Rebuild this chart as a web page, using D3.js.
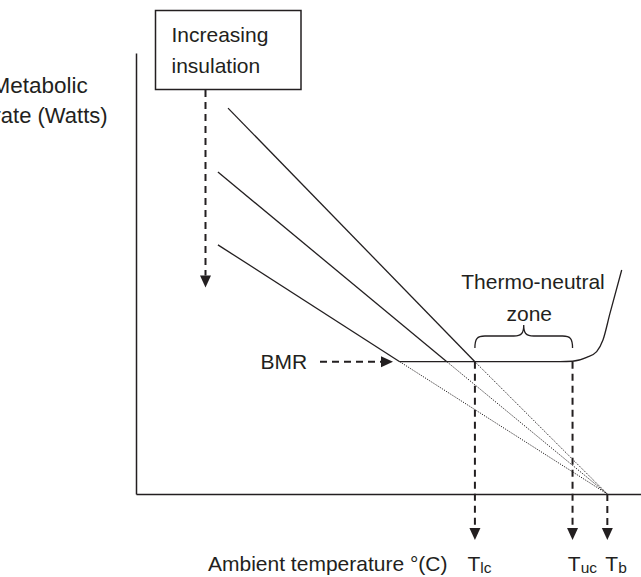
<!DOCTYPE html>
<html>
<head>
<meta charset="utf-8">
<script src="https://cdn.jsdelivr.net/npm/d3@7"></script>
<style>
  html, body { margin: 0; padding: 0; background: #fff; }
  svg { display: block; }
  text { font-family: "Liberation Sans", Arial, sans-serif; fill: #231f20; }
</style>
</head>
<body>
<svg id="chart" width="641" height="577"></svg>
<script>
// ---------------- DATA ----------------
// Temperatures (schematic, °C) and metabolic rates (schematic, W)
const criticalNames = ["lc", "uc", "b"];          // subscripts of T labels
const criticalTemps = [25.2, 33.9, 37.0];         // T_lc, T_uc, T_b
const bmrValue = 30;                              // basal metabolic rate
// Three cold-side lines (increasing insulation = shallower slope)
const lineStartT = [3.2, 2.3, 2.3];
const lineStartM = [87.5, 73.0, 56.5];
const lineBreakT = [25.2, 22.7, 18.5];            // where each meets BMR
// BMR plateau and rise above the upper critical temperature
const plateauT = [18.5, 32.8, 33.9, 35.16, 36.05, 36.61, 37.24, 38.28];
const plateauM = [30.0, 30.0, 30.1, 31.0, 32.3, 34.9, 41.0, 50.8];
// Texts
const yLabelLines = ["Metabolic", "rate (Watts)"];
const xLabel = "Ambient temperature °(C)";
const boxLines = ["Increasing", "insulation"];
const zoneLines = ["Thermo-neutral", "zone"];
const bmrLabel = "BMR";

// ---------------- LAYOUT ----------------
const ink = "#231f20";
const fs = 21;
const svg = d3.select("#chart");
const x = d3.scaleLinear().domain([-5, 40]).range([136, 641]);
const y = d3.scaleLinear().domain([0, 100]).range([494, 53]);

// axes (no ticks)
svg.append("g").attr("transform", `translate(0,${y(0)})`)
  .call(d3.axisBottom(x).tickValues([]).tickSizeOuter(0))
  .call(g => g.select(".domain").attr("stroke", ink).attr("stroke-width", 1.5));
svg.append("g").attr("transform", `translate(${x(-5)},0)`)
  .call(d3.axisLeft(y).tickValues([]).tickSizeOuter(0))
  .call(g => g.select(".domain").attr("stroke", ink).attr("stroke-width", 1.5));

// helper: dashed arrow with filled triangular head
function arrow(x1, y1, x2, y2) {
  const ang = Math.atan2(y2 - y1, x2 - x1);
  const L = 12, W = 5.5;
  const bx = x2 - L * Math.cos(ang), by = y2 - L * Math.sin(ang);
  svg.append("line").attr("x1", x1).attr("y1", y1).attr("x2", bx).attr("y2", by)
    .attr("stroke", ink).attr("stroke-width", 2).attr("stroke-dasharray", "7,5");
  const px = -Math.sin(ang) * W, py = Math.cos(ang) * W;
  svg.append("path")
    .attr("d", `M${x2},${y2}L${bx + px},${by + py}L${bx - px},${by - py}Z`)
    .attr("fill", ink);
}

const Tb = criticalTemps[2];
// cold-side lines: solid to BMR, dotted extrapolation to T_b
lineStartT.forEach((t0, i) => {
  svg.append("line")
    .attr("x1", x(t0)).attr("y1", y(lineStartM[i]))
    .attr("x2", x(lineBreakT[i])).attr("y2", y(bmrValue))
    .attr("stroke", ink).attr("stroke-width", 1.3);
  svg.append("line")
    .attr("x1", x(lineBreakT[i])).attr("y1", y(bmrValue))
    .attr("x2", x(Tb)).attr("y2", y(0))
    .attr("stroke", ink).attr("stroke-width", 1).attr("stroke-dasharray", "1.2,1.3");
});

// BMR plateau + rise
const plateau = plateauT.map((t, i) => [t, plateauM[i]]);
svg.append("path")
  .attr("d", d3.line().x(d => x(d[0])).y(d => y(d[1])).curve(d3.curveMonotoneX)(plateau))
  .attr("fill", "none").attr("stroke", ink).attr("stroke-width", 1.3);

// vertical dashed arrows down to critical temperatures
const arrowTipY = 540;
criticalTemps.forEach((t, i) => {
  const top = i < 2 ? y(bmrValue) : y(0);
  arrow(x(t), top, x(t), arrowTipY);
});

// T labels
const labelOffsets = [7.4, 4.7, 2];
criticalTemps.forEach((t, i) => {
  const tx = svg.append("text").attr("x", x(t) - labelOffsets[i]).attr("y", 570.5)
    .attr("font-size", fs);
  tx.append("tspan").text("T");
  tx.append("tspan").attr("font-size", 15.5).attr("dy", 2).text(criticalNames[i]);
});

// x label
svg.append("text").attr("x", 208).attr("y", 570.5).attr("font-size", fs).text(xLabel);

// y label (clipped at left edge as in the original)
const yLabelX = [-8.5, -6.5], yLabelSize = [22.5, 22];
yLabelLines.forEach((s, i) => {
  svg.append("text").attr("x", yLabelX[i]).attr("y", 92.7 + i * 30.6)
    .attr("font-size", yLabelSize[i]).text(s);
});

// increasing insulation box
svg.append("rect").attr("x", 155.5).attr("y", 10.5).attr("width", 145.5).attr("height", 79)
  .attr("fill", "none").attr("stroke", ink).attr("stroke-width", 1.5);
boxLines.forEach((s, i) => {
  svg.append("text").attr("x", 171.5).attr("y", 41.7 + i * 31.6).attr("font-size", fs).text(s);
});
arrow(205.5, 90, 205.5, 287.5);

// BMR label + arrow
svg.append("text").attr("x", 260.5).attr("y", 369.3).attr("font-size", fs).text(bmrLabel);
arrow(320, y(bmrValue), 393, y(bmrValue));

// thermo-neutral brace
const x1 = x(criticalTemps[0]), x2 = x(criticalTemps[1]), xm = (x1 + x2) / 2;
const yb = 348, yh = 336, yt = 325, r = 10;
svg.append("path")
  .attr("d", `M${x1},${yb} C${x1},${yh + 3} ${x1 + 2},${yh} ${x1 + r},${yh}
              L${xm - r},${yh} C${xm - 2},${yh} ${xm},${yh - 3} ${xm},${yt}
              C${xm},${yh - 3} ${xm + 2},${yh} ${xm + r},${yh}
              L${x2 - r},${yh} C${x2 - 2},${yh} ${x2},${yh + 3} ${x2},${yb}`)
  .attr("fill", "none").attr("stroke", ink).attr("stroke-width", 1.3);
svg.append("text").attr("x", 533).attr("y", 289).attr("text-anchor", "middle")
  .attr("font-size", fs).text(zoneLines[0]);
svg.append("text").attr("x", 529.3).attr("y", 320.7).attr("text-anchor", "middle")
  .attr("font-size", fs).text(zoneLines[1]);
</script>
</body>
</html>
